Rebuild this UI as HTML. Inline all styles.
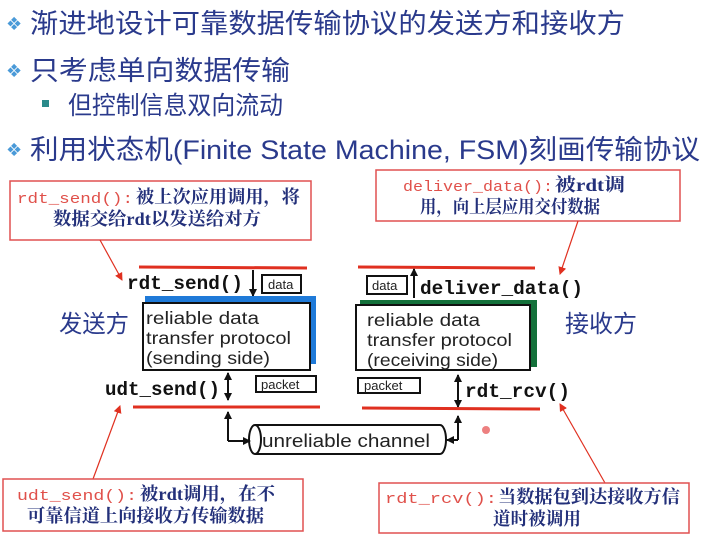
<!DOCTYPE html>
<html><head><meta charset="utf-8"><style>
html,body{margin:0;padding:0;background:#fff;width:706px;height:542px;overflow:hidden}
svg{display:block}
.cn{font-family:"Liberation Sans","Noto Sans CJK SC",sans-serif;fill:#2a3a8c}
.mono{font-family:"Liberation Mono",monospace;font-weight:bold;fill:#111}
.rm{font-family:"Liberation Mono",monospace;fill:#e0504a}
.bc{font-family:"Liberation Serif","Noto Serif CJK SC",serif;fill:#23307a;font-weight:bold}
.sans{font-family:"Liberation Sans",sans-serif;fill:#222}
</style></head><body>
<svg width="706" height="542" viewBox="0 0 706 542" xmlns="http://www.w3.org/2000/svg">
<defs>
<marker id="ah" markerWidth="8" markerHeight="8" refX="7" refY="4" orient="auto" markerUnits="userSpaceOnUse"><path d="M0,0 L8,4 L0,8 z" fill="#111"/></marker>
<marker id="rh" markerWidth="8" markerHeight="8" refX="7" refY="4" orient="auto" markerUnits="userSpaceOnUse"><path d="M0,0 L8,4 L0,8 z" fill="#e03020"/></marker>
</defs>
<g fill="#4a9ad8">
<text x="6" y="30" font-size="18" font-family="DejaVu Sans">❖</text>
<text x="6" y="77" font-size="18" font-family="DejaVu Sans">❖</text>
<text x="6" y="156" font-size="18" font-family="DejaVu Sans">❖</text>
</g>
<rect x="42" y="100" width="7" height="7" fill="#2a8a8a"/>
<text class="cn" x="30" y="33" font-size="27" textLength="595" lengthAdjust="spacingAndGlyphs">渐进地设计可靠数据传输协议的发送方和接收方</text>
<text class="cn" x="30" y="80" font-size="27" textLength="260" lengthAdjust="spacingAndGlyphs">只考虑单向数据传输</text>
<text class="cn" x="68" y="114" font-size="25" textLength="215" lengthAdjust="spacingAndGlyphs">但控制信息双向流动</text>
<text class="cn" x="30" y="159" font-size="27" textLength="670" lengthAdjust="spacingAndGlyphs">利用状态机(Finite State Machine, FSM)刻画传输协议</text>

<rect x="10" y="181" width="301" height="59" fill="#fff" stroke="#e05050" stroke-width="1.5"/>
<text class="rm" x="17" y="203" font-size="15" textLength="116" lengthAdjust="spacingAndGlyphs">rdt_send():</text>
<text class="bc" x="136" y="203" font-size="18" textLength="164" lengthAdjust="spacingAndGlyphs">被上次应用调用，将</text>
<text class="bc" x="53" y="225" font-size="18" textLength="208" lengthAdjust="spacingAndGlyphs">数据交给rdt以发送给对方</text>
<line x1="100" y1="240" x2="122" y2="280" stroke="#e03020" stroke-width="1.2" marker-end="url(#rh)"/>

<rect x="376" y="170" width="304" height="51" fill="#fff" stroke="#e05050" stroke-width="1.5"/>
<text class="rm" x="403" y="191" font-size="15" textLength="150" lengthAdjust="spacingAndGlyphs">deliver_data():</text>
<text class="bc" x="555" y="191" font-size="18" textLength="70" lengthAdjust="spacingAndGlyphs">被rdt调</text>
<text class="bc" x="420" y="213" font-size="18" textLength="180" lengthAdjust="spacingAndGlyphs">用，向上层应用交付数据</text>
<line x1="578" y1="221" x2="560" y2="274" stroke="#e03020" stroke-width="1.2" marker-end="url(#rh)"/>

<line x1="139" y1="267" x2="307" y2="268" stroke="#e03020" stroke-width="3"/>
<text class="mono" x="127" y="289" font-size="19" textLength="116" lengthAdjust="spacingAndGlyphs">rdt_send()</text>
<line x1="253" y1="270" x2="253" y2="296" stroke="#111" stroke-width="2" marker-end="url(#ah)"/>
<rect x="262" y="275" width="39" height="18" fill="#fff" stroke="#111" stroke-width="2"/>
<text class="sans" x="268" y="289" font-size="13">data</text>
<rect x="145" y="296" width="171" height="68" fill="#1f7ad8"/>
<rect x="143" y="303" width="167" height="67" fill="#fff" stroke="#111" stroke-width="2"/>
<text class="sans" x="146" y="324" font-size="17.5" textLength="113" lengthAdjust="spacingAndGlyphs">reliable data</text>
<text class="sans" x="146" y="344" font-size="17.5" textLength="145" lengthAdjust="spacingAndGlyphs">transfer protocol</text>
<text class="sans" x="146" y="364" font-size="17.5" textLength="124" lengthAdjust="spacingAndGlyphs">(sending side)</text>
<text class="cn" x="59" y="332" font-size="24" textLength="70" lengthAdjust="spacingAndGlyphs">发送方</text>
<text class="mono" x="105" y="395" font-size="19" textLength="115" lengthAdjust="spacingAndGlyphs">udt_send()</text>
<line x1="228" y1="385" x2="228" y2="400" stroke="#111" stroke-width="2" marker-end="url(#ah)"/>
<line x1="228" y1="388" x2="228" y2="373" stroke="#111" stroke-width="2" marker-end="url(#ah)"/>
<rect x="256" y="376" width="60" height="16" fill="#fff" stroke="#111" stroke-width="2"/>
<text class="sans" x="261" y="389" font-size="13">packet</text>
<line x1="133" y1="407" x2="320" y2="407" stroke="#e03020" stroke-width="3"/>

<line x1="358" y1="267" x2="535" y2="268" stroke="#e03020" stroke-width="3"/>
<rect x="367" y="276" width="40" height="18" fill="#fff" stroke="#111" stroke-width="2"/>
<text class="sans" x="372" y="290" font-size="13">data</text>
<line x1="414" y1="298" x2="414" y2="269" stroke="#111" stroke-width="2" marker-end="url(#ah)"/>
<text class="mono" x="420" y="294" font-size="19" textLength="163" lengthAdjust="spacingAndGlyphs">deliver_data()</text>
<rect x="360" y="300" width="177" height="67" fill="#13703a"/>
<rect x="356" y="305" width="174" height="65" fill="#fff" stroke="#111" stroke-width="2"/>
<text class="sans" x="367" y="326" font-size="17.5" textLength="113" lengthAdjust="spacingAndGlyphs">reliable data</text>
<text class="sans" x="367" y="346" font-size="17.5" textLength="145" lengthAdjust="spacingAndGlyphs">transfer protocol</text>
<text class="sans" x="367" y="366" font-size="17.5" textLength="131" lengthAdjust="spacingAndGlyphs">(receiving side)</text>
<text class="cn" x="565" y="332" font-size="24" textLength="72" lengthAdjust="spacingAndGlyphs">接收方</text>
<rect x="358" y="378" width="62" height="15" fill="#fff" stroke="#111" stroke-width="2"/>
<text class="sans" x="364" y="390" font-size="13">packet</text>
<line x1="458" y1="388" x2="458" y2="407" stroke="#111" stroke-width="2" marker-end="url(#ah)"/>
<line x1="458" y1="392" x2="458" y2="375" stroke="#111" stroke-width="2" marker-end="url(#ah)"/>
<text class="mono" x="465" y="397" font-size="19" textLength="105" lengthAdjust="spacingAndGlyphs">rdt_rcv()</text>
<line x1="362" y1="408" x2="540" y2="409" stroke="#e03020" stroke-width="3"/>

<path d="M255,425 L440,425 A6,14.5 0 0 1 440,454 L255,454 A6,14.5 0 0 1 255,425 Z" fill="#fff" stroke="#111" stroke-width="2"/>
<path d="M255,425 A6,14.5 0 0 1 255,454" fill="none" stroke="#111" stroke-width="2"/>
<text class="sans" x="262" y="447" font-size="18" textLength="168" lengthAdjust="spacingAndGlyphs">unreliable channel</text>
<path d="M228,441 L228,412" fill="none" stroke="#111" stroke-width="2" marker-end="url(#ah)"/>
<path d="M228,441 L250,441" fill="none" stroke="#111" stroke-width="2" marker-end="url(#ah)"/>
<path d="M458,440 L458,416" fill="none" stroke="#111" stroke-width="2" marker-end="url(#ah)"/>
<path d="M458,440 L447,440" fill="none" stroke="#111" stroke-width="2" marker-end="url(#ah)"/>
<circle cx="486" cy="430" r="4" fill="#e86060" opacity="0.8"/>

<line x1="93" y1="479" x2="120" y2="406" stroke="#e03020" stroke-width="1.2" marker-end="url(#rh)"/>
<rect x="3" y="479" width="300" height="52" fill="#fff" stroke="#e05050" stroke-width="1.5"/>
<text class="rm" x="17" y="500" font-size="15" textLength="120" lengthAdjust="spacingAndGlyphs">udt_send():</text>
<text class="bc" x="140" y="500" font-size="18" textLength="135" lengthAdjust="spacingAndGlyphs">被rdt调用，在不</text>
<text class="bc" x="27" y="522" font-size="18" textLength="237" lengthAdjust="spacingAndGlyphs">可靠信道上向接收方传输数据</text>

<line x1="605" y1="483" x2="560" y2="404" stroke="#e03020" stroke-width="1.2" marker-end="url(#rh)"/>
<rect x="379" y="483" width="310" height="50" fill="#fff" stroke="#e05050" stroke-width="1.5"/>
<text class="rm" x="385" y="503" font-size="15" textLength="112" lengthAdjust="spacingAndGlyphs">rdt_rcv():</text>
<text class="bc" x="498" y="503" font-size="18" textLength="182" lengthAdjust="spacingAndGlyphs">当数据包到达接收方信</text>
<text class="bc" x="493" y="525" font-size="18" textLength="88" lengthAdjust="spacingAndGlyphs">道时被调用</text>
</svg>
</body></html>
